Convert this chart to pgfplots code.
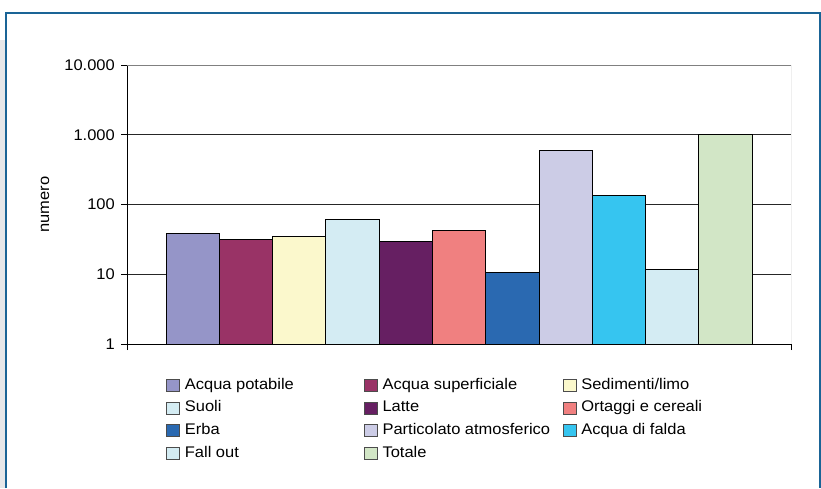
\documentclass[border=0pt]{standalone}
\usepackage{pgfplots}
\pgfplotsset{compat=1.18}
\usepackage{fontspec}
\setmainfont{Liberation Sans}[FakeStretch=1.07]
\definecolor{frameblue}{RGB}{26,100,150}
\definecolor{framegray}{HTML}{E6E7E9}
\definecolor{c1}{HTML}{9595C8}
\definecolor{c2}{HTML}{993366}
\definecolor{c3}{HTML}{FBF8CC}
\definecolor{c4}{HTML}{D4ECF3}
\definecolor{c5}{HTML}{661F62}
\definecolor{c6}{HTML}{F08080}
\definecolor{c7}{HTML}{2A69B1}
\definecolor{c8}{HTML}{CCCCE6}
\definecolor{c9}{HTML}{36C5F0}
\definecolor{c10}{HTML}{D4ECF3}
\definecolor{c11}{HTML}{D2E6C6}
\pgfplotsset{
  mybar/.style={ybar, bar width=1, bar shift=0pt, draw=black, line width=0.7pt, fill=#1},
}
\newcommand{\ca}[1]{\makebox[178pt][l]{#1}}
\newcommand{\cb}[1]{\makebox[179pt][l]{#1}}
\begin{document}
\begin{tikzpicture}[x=1pt,y=1pt]
\path[use as bounding box] (0,0) rectangle (821,488);
\fill[framegray] (0,0) rectangle (5,448);
\draw[frameblue, line width=2pt] (5.8,0) -- (5.8,475) -- (819.8,475) -- (819.8,0);
\begin{axis}[
  at={(127pt,144pt)}, anchor=south west,
  scale only axis, width=664pt, height=279pt,
  ymode=log, ymin=1, ymax=10000,
  xmin=-1.23, xmax=11.23,
  axis lines=left, axis line style={-, black, line width=0.8pt},
  ytick={1,10,100,1000,10000},
  yticklabels={1,10,100,1.000,10.000},
  yminorticks=false,
  xtick={-1.23,11.23}, xticklabels={},
  tick align=outside, major tick length=6pt,
  tick style={black, line width=0.8pt},
  ymajorgrids, grid style={black!85, line width=0.8pt},
  yticklabel style={font=\fontsize{15.4}{18}\selectfont, inner sep=0pt, xshift=-6pt},
  every axis y label/.style={at={(axis description cs:-0.1235,0.5)}, rotate=90, anchor=center, font=\fontsize{15.4}{18}\selectfont},
  ylabel={numero},
  legend columns=3,
  legend cell align=left,
  legend image code/.code={\draw[#1, draw=black!70, line width=0.7pt] (0pt,-6pt) rectangle (13pt,6pt);},
  legend style={at={(rel axis cs:0.0587,-0.1165)}, anchor=north west, draw=none, inner sep=0pt,
    font=\fontsize{15.4}{18}\selectfont, row sep=5.7pt,
    nodes={inner sep=1pt, text height=11.5pt, text depth=3.5pt},
    /tikz/column 1/.style={column sep=4pt},
    /tikz/column 2/.style={column sep=0pt},
    /tikz/column 3/.style={column sep=4pt},
    /tikz/column 4/.style={column sep=0pt},
    /tikz/column 5/.style={column sep=4pt}},
]
\addplot[mybar=c1] coordinates {(0,38)}; \addlegendentry{\ca{Acqua potabile}}
\addplot[mybar=c2] coordinates {(1,32)}; \addlegendentry{\cb{Acqua superficiale}}
\addplot[mybar=c3] coordinates {(2,34.5)}; \addlegendentry{Sedimenti/limo}
\addplot[mybar=c4] coordinates {(3,62)}; \addlegendentry{\ca{Suoli}}
\addplot[mybar=c5] coordinates {(4,29.6)}; \addlegendentry{\cb{Latte}}
\addplot[mybar=c6] coordinates {(5,42.5)}; \addlegendentry{Ortaggi e cereali}
\addplot[mybar=c7] coordinates {(6,10.8)}; \addlegendentry{\ca{Erba}}
\addplot[mybar=c8] coordinates {(7,604)}; \addlegendentry{\cb{Particolato atmosferico}}
\addplot[mybar=c9] coordinates {(8,137)}; \addlegendentry{Acqua di falda}
\addplot[mybar=c10] coordinates {(9,11.9)}; \addlegendentry{\ca{Fall out}}
\addplot[mybar=c11] coordinates {(10,1010)}; \addlegendentry{\cb{Totale}}
\draw[gray, line width=0.8pt] (rel axis cs:0,1) -- (rel axis cs:1,1) -- (rel axis cs:1,0);
\end{axis}
\end{tikzpicture}
\end{document}
